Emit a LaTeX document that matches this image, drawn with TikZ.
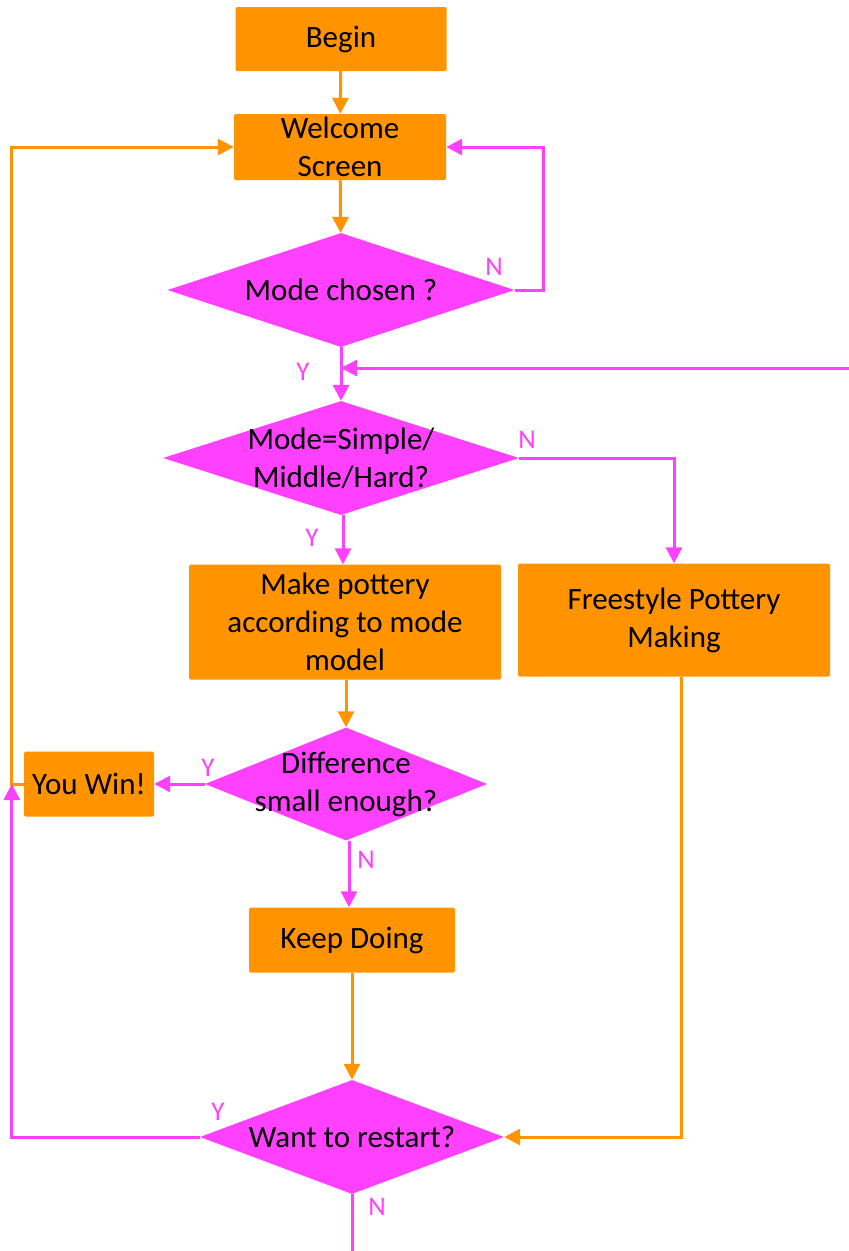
\documentclass[tikz,border=0pt]{standalone}
\usepackage{fontspec}
\setmainfont{Carlito}
\usepackage{tikz}
\usetikzlibrary{arrows.meta,shapes.geometric,positioning}

\definecolor{flowor}{RGB}{255,147,0}
\definecolor{flowpk}{RGB}{255,64,255}

\tikzset{
  block/.style={rectangle, fill=flowor, rounded corners=1.5pt, inner sep=0pt, align=center},
  decision/.style={diamond, fill=flowpk, inner sep=0pt},
  dtext/.style={align=center},
  yn/.style={text=flowpk, font=\fontsize{27}{30}\selectfont},
  orline/.style={draw=flowor, line width=3pt, -{Triangle[length=16pt,width=16pt]}},
  pkline/.style={draw=flowpk, line width=3pt, -{Triangle[length=16pt,width=16pt]}}
}

\begin{document}
\begin{tikzpicture}[x=1pt,y=-1pt,font=\fontsize{31}{38}\selectfont]
  \useasboundingbox (0,0) rectangle (849,1251);

  \node[block, minimum width=211pt, minimum height=64pt] (begin) at (341,39) {Begin};
  \node[block, minimum width=212pt, minimum height=66pt] (welcome) at (340,147) {Welcome\\Screen};
  \node[decision, minimum width=347pt, minimum height=114pt,
        label={[dtext]center:Mode chosen ?}] (chosen) at (341,290) {};
  \node[decision, minimum width=356pt, minimum height=114pt,
        label={[dtext]center:{Mode=Simple/\\Middle/Hard?}}] (mode) at (341,458) {};
  \node[block, minimum width=312pt, minimum height=115pt] (make) at (345,622) {Make pottery\\according to mode\\model};
  \node[block, minimum width=312pt, minimum height=113pt] (free) at (674,620) {Freestyle Pottery\\Making};
  \node[decision, minimum width=282pt, minimum height=113pt,
        label={[dtext]center:{Difference\\small enough?}}] (diff) at (346,784) {};
  \node[block, minimum width=130pt, minimum height=65pt] (win) at (89,784) {You Win!};
  \node[block, minimum width=206pt, minimum height=65pt] (keep) at (352,940) {Keep Doing};
  \node[decision, minimum width=304pt, minimum height=114pt,
        label={[dtext]center:Want to restart?}] (restart) at (352,1137) {};

  \coordinate (back) at (849,368);
  \coordinate (turn) at ([xshift=-12pt]win.west);
  \coordinate (stop) at (352,1251);

  % orange flow
  \draw[orline] (begin) -- (welcome);
  \draw[orline] (welcome) -- (chosen);
  \draw[orline] (make.south -| diff.north) -- (diff.north);
  \draw[orline] (keep) -- (restart);
  \draw[orline] (win.west) -- (turn) |- (welcome.west);
  \draw[orline] ([xshift=7pt]free.south) |- (restart.east);

  % pink flow
  \draw[pkline] (chosen.east) -- ++(29,0) |- (welcome.east);
  \draw[pkline] (chosen.south) -- (mode.north);
  \draw[pkline] (back) -- (back -| chosen.south);
  \draw[pkline] (mode.east) -| (free.north);
  \draw[pkline] ([xshift=2pt]mode.south) -- ([xshift=2pt]mode.south |- make.north);
  \draw[pkline] (diff.west) -- (win.east);
  \draw[pkline] ([xshift=3pt]diff.south) -- ([xshift=3pt]diff.south |- keep.north);
  \draw[pkline] (restart.west) -| (turn);
  \draw[draw=flowpk, line width=3pt] (restart.south) -- (stop);

  % Y / N
  \node[yn] (n1) at (494,267) {N};
  \node[yn] (y1) at (303,372) {Y};
  \node[yn] (n2) at (527,440) {N};
  \node[yn] (y2) at (312,538) {Y};
  \node[yn] (y3) at (208,768) {Y};
  \node[yn] (n3) at (366,860) {N};
  \node[yn] (y4) at (218,1112) {Y};
  \node[yn] (n4) at (377,1207) {N};
\end{tikzpicture}
\end{document}
